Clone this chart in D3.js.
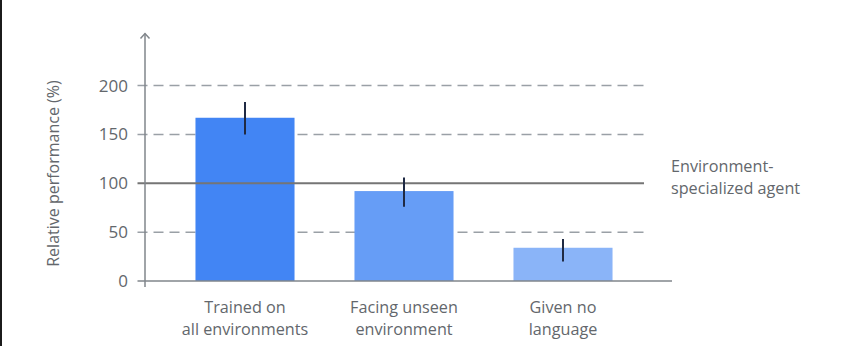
<!DOCTYPE html>
<html>
<head>
<meta charset="utf-8">
<script src="https://cdn.jsdelivr.net/npm/d3@7"></script>
<style>
  html, body { margin: 0; padding: 0; background: #fff; }
  svg { display: block; }
  text { font-family: "Open Sans", Roboto, sans-serif; }
</style>
</head>
<body>
<script>
// Relative performance of the generalist agent vs. an environment-specialized agent (100%)
const categories = [["Trained on", "all environments"], ["Facing unseen", "environment"], ["Given no", "language"]];
const values = [167, 92, 34];
const errLow = [150, 76, 20];
const errHigh = [183, 106, 43];
const barColors = ["#4285f4", "#669df6", "#8ab4f8"];
const yTicks = [0, 50, 100, 150, 200];
const referenceValue = 100;
const referenceLabel = ["Environment-", "specialized agent"];
const yTitle = "Relative performance (%)";

const W = 853, H = 346;
const svg = d3.select("body").append("svg").attr("width", W).attr("height", H);

// dark frame edge on the left
svg.append("rect").attr("x", 0).attr("y", 0).attr("width", 2).attr("height", H).attr("fill", "#1b1b1b");

const axisX = 145, gridStart = 137.5, gridEnd = 644, baseEnd = 672;
const y = d3.scaleLinear().domain([0, 200]).range([281, 85.5]);
const x = d3.scaleBand()
  .domain(d3.range(categories.length))
  .range([165.5, 642.5])
  .paddingInner(0.377)
  .paddingOuter(0.1885);

const textGrey = "#63676c";
const lineGrey = "#80868b";

// dashed gridlines
svg.append("g").selectAll("line")
  .data(yTicks.filter(t => t !== 0 && t !== referenceValue))
  .join("line")
  .attr("x1", gridStart).attr("x2", gridEnd)
  .attr("y1", d => y(d)).attr("y2", d => y(d))
  .attr("stroke", "#9aa0a6").attr("stroke-width", 1.5)
  .attr("stroke-dasharray", "10,6");

// bars
svg.append("g").selectAll("rect")
  .data(values)
  .join("rect")
  .attr("x", (d, i) => x(i))
  .attr("width", x.bandwidth())
  .attr("y", d => y(d))
  .attr("height", d => y(0) - y(d))
  .attr("fill", (d, i) => barColors[i]);

// reference line at 100%
svg.append("line")
  .attr("x1", gridStart).attr("x2", gridEnd)
  .attr("y1", y(referenceValue)).attr("y2", y(referenceValue))
  .attr("stroke", "#757575").attr("stroke-width", 1.8);

// error bars
svg.append("g").selectAll("line")
  .data(values)
  .join("line")
  .attr("x1", (d, i) => x(i) + x.bandwidth() / 2)
  .attr("x2", (d, i) => x(i) + x.bandwidth() / 2)
  .attr("y1", (d, i) => y(errHigh[i]))
  .attr("y2", (d, i) => y(errLow[i]))
  .attr("stroke", "#1f2a44").attr("stroke-width", 2);

// baseline
svg.append("line")
  .attr("x1", gridStart).attr("x2", baseEnd)
  .attr("y1", y(0)).attr("y2", y(0))
  .attr("stroke", lineGrey).attr("stroke-width", 1.5);

// vertical axis with arrow head
svg.append("line")
  .attr("x1", axisX).attr("x2", axisX)
  .attr("y1", 33.5).attr("y2", 287)
  .attr("stroke", lineGrey).attr("stroke-width", 1.5);
svg.append("path")
  .attr("d", `M${axisX - 4.5},38.5 L${axisX},33.5 L${axisX + 4.5},38.5`)
  .attr("fill", "none").attr("stroke", lineGrey).attr("stroke-width", 1.5);

// tick labels
svg.append("g").selectAll("text")
  .data(yTicks)
  .join("text")
  .attr("x", 128)
  .attr("y", d => y(d))
  .attr("dy", "0.36em")
  .attr("text-anchor", "end")
  .attr("font-size", 17)
  .attr("fill", textGrey)
  .text(d => d);

// y-axis title
svg.append("text")
  .attr("transform", "translate(59,173.5) rotate(-90)")
  .attr("text-anchor", "middle")
  .attr("font-size", 16)
  .attr("fill", textGrey)
  .text(yTitle);

// category labels
const catG = svg.append("g").selectAll("text")
  .data(categories)
  .join("text")
  .attr("text-anchor", "middle")
  .attr("font-size", 16.2)
  .attr("fill", textGrey);
catG.selectAll("tspan")
  .data((d, i) => d.map(s => ({ s, i })))
  .join("tspan")
  .attr("x", d => x(d.i) + x.bandwidth() / 2)
  .attr("y", (d, j) => 313 + j * 22)
  .text(d => d.s);

// reference label, one text element per line
svg.append("g").selectAll("text")
  .data(referenceLabel)
  .join("text")
  .attr("font-size", 16.2)
  .attr("fill", textGrey)
  .attr("x", 671)
  .attr("y", (d, j) => 172 + j * 21.5)
  .text(d => d);
</script>
</body>
</html>
